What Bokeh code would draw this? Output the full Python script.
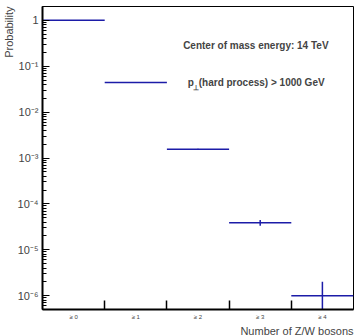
from bokeh.plotting import figure
from bokeh.models import FixedTicker, Range1d, Label, Title, CustomJSTickFormatter
from bokeh.embed import file_html
from bokeh.resources import INLINE

# data
categories = ["≥ 0", "≥ 1", "≥ 2", "≥ 3", "≥ 4"]
bin_lo = [0, 1, 2, 3, 4]
bin_hi = [1, 2, 3, 4, 5]
bin_center = [0.5, 1.5, 2.5, 3.5, 4.5]
prob = [1.0, 0.0443, 0.00156, 3.9e-5, 1.0e-6]
prob_err = [0.0, 0.0006, 0.00003, 0.55e-5, 1.0e-6]
y_tick_vals = [1e-6, 1e-5, 1e-4, 1e-3, 1e-2, 1e-1, 1.0]
y_tick_text = ["10⁻⁶", "10⁻⁵", "10⁻⁴", "10⁻³", "10⁻²", "10⁻¹", "1"]

Y_MIN, Y_MAX = 5e-7, 2.0
FONT = "Liberation Sans"
COL = "#1c1ca8"

p = figure(width=354, height=336, y_axis_type="log", output_backend="svg",
           toolbar_location=None, x_range=Range1d(0, 5), y_range=Range1d(Y_MIN, Y_MAX),
           min_border_left=4, min_border_right=1, min_border_top=6, min_border_bottom=0)
p.background_fill_color = "white"
p.border_fill_color = "white"
p.outline_line_color = "black"
p.outline_line_width = 1
p.grid.visible = False

# x axis: labels at bin centres, ticks at bin edges (as minor ticks)
xa = p.xaxis[0]
xa.ticker = FixedTicker(ticks=bin_center, minor_ticks=bin_lo[1:])
xa.major_label_overrides = {c: t for c, t in zip(bin_center, categories)}
xa.major_tick_in = 0
xa.major_tick_out = 0
xa.minor_tick_in = 9
xa.minor_tick_out = 0
xa.minor_tick_line_width = 1.5
xa.axis_line_width = 2
xa.major_label_text_font = FONT
xa.major_label_text_font_size = "6px"
xa.major_label_standoff = 4

# y axis
ya = p.yaxis[0]
minor = [k * d for d in [1e-7, 1e-6, 1e-5, 1e-4, 1e-3, 1e-2, 1e-1, 1.0] for k in range(2, 10)]
ya.ticker = FixedTicker(ticks=y_tick_vals, minor_ticks=minor)
ya.formatter = CustomJSTickFormatter(args=dict(vals=y_tick_vals, texts=y_tick_text), code="""
    let best = 0, bd = Infinity;
    for (let i = 0; i < vals.length; i++) {
        const d = Math.abs(Math.log10(tick) - Math.log10(vals[i]));
        if (d < bd) { bd = d; best = i; }
    }
    return texts[best];
""")
ya.major_tick_in = 7
ya.major_tick_out = 0
ya.minor_tick_in = 4
ya.minor_tick_out = 0
ya.axis_line_width = 2
ya.major_label_text_font = FONT
ya.major_label_text_font_size = "11px"
ya.major_label_standoff = 4

p.add_layout(Title(text="Number of Z/W bosons", align="right", text_font=FONT, standoff=0,
                   text_font_size="11px", text_font_style="normal"), "below")
p.add_layout(Title(text="Probability", align="right", text_font=FONT, standoff=0,
                   text_font_size="11px", text_font_style="normal"), "left")

# histogram bars with errors
p.segment(x0=bin_lo, y0=prob, x1=bin_hi, y1=prob, line_color=COL, line_width=1.5)
err_lo = [max(v - e, Y_MIN) for v, e in zip(prob, prob_err)]
err_hi = [v + e for v, e in zip(prob, prob_err)]
p.segment(x0=bin_center, y0=err_lo, x1=bin_center, y1=err_hi, line_color=COL, line_width=1.5)

# annotations
p.add_layout(Label(x=3.43, y=0.276, text="Center of mass energy: 14 TeV", text_align="center",
                   text_baseline="middle", text_font=FONT, text_font_size="10px",
                   text_font_style="bold"))
p.add_layout(Label(x=2.335, y=0.044, text="p", text_align="left", text_baseline="middle",
                   text_font=FONT, text_font_size="10px", text_font_style="bold"))
p.add_layout(Label(x=2.335, y=0.044, x_offset=5, y_offset=-5, text="⊥", text_align="left",
                   text_baseline="middle", text_font=FONT, text_font_size="7px",
                   text_font_style="bold"))
p.add_layout(Label(x=2.335, y=0.044, x_offset=11, text="(hard process) > 1000 GeV",
                   text_align="left", text_baseline="middle", text_font=FONT,
                   text_font_size="10px", text_font_style="bold"))

open("out.html", "w").write(file_html(p, INLINE))
